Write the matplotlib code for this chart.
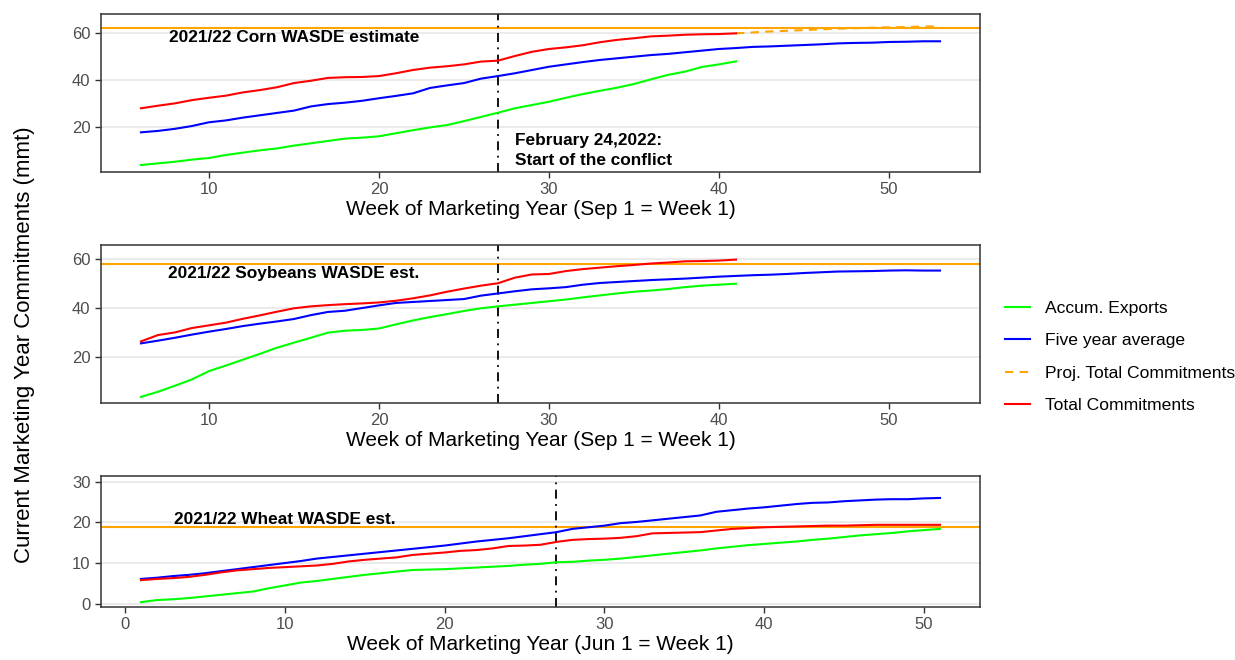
import matplotlib
matplotlib.use("Agg")
import matplotlib.pyplot as plt
from matplotlib.lines import Line2D

plt.rcParams['font.family'] = ['Liberation Sans', 'DejaVu Sans']

# Corn / soybeans: marketing year starts Sep 1 (weeks 6..53)
corn_weeks = list(range(6, 54))
corn_exports = [3.6, 4.3, 5.0, 5.9, 6.6, 7.9, 8.9, 9.9, 10.7, 11.9, 12.9, 13.9, 14.9, 15.3,
                15.9, 17.2, 18.5, 19.7, 20.7, 22.4, 24.2, 26.0, 27.9, 29.3, 30.7, 32.4, 34.0,
                35.4, 36.7, 38.3, 40.3, 42.2, 43.6, 45.6, 46.7, 48.0]
corn_avg = [17.6, 18.2, 19.1, 20.3, 21.9, 22.7, 23.9, 24.9, 25.9, 26.9, 28.7, 29.7, 30.3, 31.1,
            32.2, 33.2, 34.3, 36.6, 37.7, 38.7, 40.6, 41.7, 42.9, 44.3, 45.7, 46.7, 47.7, 48.6,
            49.3, 50.0, 50.7, 51.2, 51.9, 52.6, 53.3, 53.7, 54.2, 54.4, 54.7, 55.0, 55.3, 55.7,
            55.9, 56.0, 56.3, 56.4, 56.6, 56.6]
corn_total = [27.9, 29.0, 30.0, 31.4, 32.4, 33.3, 34.7, 35.7, 36.9, 38.7, 39.7, 40.9, 41.2, 41.3,
              41.7, 42.9, 44.3, 45.3, 45.9, 46.7, 47.9, 48.3, 50.3, 52.1, 53.3, 54.0, 54.9, 56.2,
              57.2, 57.9, 58.7, 59.0, 59.4, 59.6, 59.7, 60.0]
corn_proj_weeks = list(range(41, 54))
corn_proj = [60.0, 60.4, 60.8, 61.1, 61.4, 61.7, 62.0, 62.2, 62.4, 62.6, 62.7, 62.9, 63.0]
corn_wasde = 62.5

soy_weeks = list(range(6, 54))
soy_exports = [3.5, 5.6, 8.1, 10.7, 14.1, 16.4, 18.8, 21.2, 23.7, 25.8, 27.8, 29.9, 30.7, 31.0,
               31.6, 33.3, 34.9, 36.3, 37.5, 38.8, 39.9, 40.7, 41.4, 42.1, 42.8, 43.5, 44.4,
               45.2, 46.0, 46.7, 47.2, 47.8, 48.6, 49.2, 49.6, 50.0]
soy_avg = [25.5, 26.6, 27.8, 29.1, 30.3, 31.4, 32.6, 33.6, 34.5, 35.5, 37.1, 38.4, 38.9, 40.0,
           41.1, 42.1, 42.5, 42.9, 43.3, 43.7, 45.1, 46.0, 46.9, 47.7, 48.1, 48.6, 49.6, 50.3,
           50.7, 51.1, 51.5, 51.8, 52.1, 52.5, 52.9, 53.2, 53.5, 53.7, 54.0, 54.4, 54.7, 55.0,
           55.1, 55.2, 55.4, 55.5, 55.4, 55.4]
soy_total = [26.3, 28.9, 30.0, 31.8, 32.9, 34.0, 35.6, 37.0, 38.5, 39.9, 40.7, 41.2, 41.6, 41.9,
             42.3, 43.0, 44.0, 45.2, 46.7, 48.0, 49.2, 50.2, 52.5, 53.8, 54.0, 55.2, 56.0, 56.6,
             57.2, 57.7, 58.3, 58.7, 59.2, 59.3, 59.5, 59.9]
soy_wasde = 58.2

# Wheat: marketing year starts Jun 1 (weeks 1..51)
wheat_weeks = list(range(1, 52))
wheat_exports = [0.4, 0.9, 1.1, 1.4, 1.8, 2.2, 2.6, 3.0, 3.8, 4.5, 5.2, 5.6, 6.1, 6.6, 7.1, 7.5,
                 7.9, 8.3, 8.4, 8.5, 8.7, 8.9, 9.1, 9.3, 9.6, 9.8, 10.2, 10.3, 10.6, 10.8, 11.1,
                 11.5, 11.9, 12.3, 12.7, 13.1, 13.6, 14.0, 14.4, 14.7, 15.0, 15.3, 15.7, 16.0,
                 16.4, 16.8, 17.1, 17.4, 17.8, 18.1, 18.4]
wheat_avg = [6.1, 6.4, 6.8, 7.1, 7.5, 8.0, 8.5, 9.0, 9.5, 10.0, 10.5, 11.1, 11.5, 11.9, 12.3,
             12.7, 13.1, 13.5, 13.9, 14.3, 14.8, 15.3, 15.7, 16.1, 16.6, 17.1, 17.6, 18.4, 18.8,
             19.2, 19.8, 20.1, 20.5, 20.9, 21.3, 21.7, 22.6, 23.0, 23.4, 23.7, 24.1, 24.5, 24.8,
             24.9, 25.2, 25.4, 25.6, 25.7, 25.7, 25.9, 26.0]
wheat_total = [5.8, 6.1, 6.3, 6.6, 7.1, 7.7, 8.2, 8.5, 8.8, 9.0, 9.2, 9.4, 9.8, 10.4, 10.8, 11.1,
               11.4, 12.0, 12.3, 12.6, 13.0, 13.2, 13.6, 14.2, 14.3, 14.5, 15.2, 15.7, 15.9, 16.0,
               16.2, 16.6, 17.3, 17.4, 17.5, 17.6, 18.0, 18.4, 18.6, 18.8, 18.9, 19.0, 19.1, 19.2,
               19.2, 19.3, 19.4, 19.4, 19.4, 19.4, 19.4]
wheat_wasde = 18.9

conflict_week = 27

GREEN = "#00FF00"
BLUE = "#0000FF"
RED = "#FF0000"
ORANGE = "#FFA500"
LW = 1.5
ANNOT_SIZE = 12.4


def style_axes(ax, xlim, ylim, yticks, xticks, xlabel):
    ax.set_xlim(*xlim)
    ax.set_ylim(*ylim)
    ax.set_yticks(yticks)
    ax.set_xticks(xticks)
    ax.grid(axis='y', color='#EBEBEB', linewidth=1.4)
    ax.grid(axis='x', visible=False)
    ax.set_axisbelow(True)
    for sp in ax.spines.values():
        sp.set_color('#333333')
        sp.set_linewidth(1.1)
    ax.tick_params(colors='#333333', labelcolor='#4D4D4D', labelsize=12, length=4, width=1)
    ax.set_xlabel(xlabel, fontsize=15, labelpad=2)


def vline(ax):
    ax.axvline(conflict_week, color='black', linewidth=1.3, linestyle=(0, (5, 3, 1, 3)))


def main():
    fig = plt.figure(figsize=(12.35, 6.6), dpi=100)
    W, H = 1235, 660
    ax1 = fig.add_axes([101 / W, 1 - 172 / H, 879 / W, 158.5 / H])
    ax2 = fig.add_axes([101 / W, 1 - 403 / H, 879 / W, 158 / H])
    ax3 = fig.add_axes([101 / W, 1 - 607 / H, 879 / W, 131 / H])

    # corn
    ax1.axhline(corn_wasde, color=ORANGE, linewidth=LW)
    vline(ax1)
    ax1.plot(corn_proj_weeks, corn_proj, color=ORANGE, linewidth=LW, linestyle=(0, (4, 3)))
    ax1.plot(corn_weeks[:len(corn_exports)], corn_exports, color=GREEN, linewidth=LW)
    ax1.plot(corn_weeks, corn_avg, color=BLUE, linewidth=LW)
    ax1.plot(corn_weeks[:len(corn_total)], corn_total, color=RED, linewidth=LW)
    ax1.text(15, 58.3, "2021/22 Corn WASDE estimate", fontsize=ANNOT_SIZE, fontweight='bold',
             ha='center', va='center')
    ax1.text(28, 9.8, "February 24,2022:\nStart of the conflict", fontsize=ANNOT_SIZE,
             fontweight='bold', ha='left', va='center', linespacing=1.35)
    style_axes(ax1, (3.65, 55.35), (0.6, 68.5), [20, 40, 60], [10, 20, 30, 40, 50],
               "Week of Marketing Year (Sep 1 = Week 1)")

    # soybeans
    ax2.axhline(soy_wasde, color=ORANGE, linewidth=LW)
    vline(ax2)
    ax2.plot(soy_weeks[:len(soy_exports)], soy_exports, color=GREEN, linewidth=LW)
    ax2.plot(soy_weeks, soy_avg, color=BLUE, linewidth=LW)
    ax2.plot(soy_weeks[:len(soy_total)], soy_total, color=RED, linewidth=LW)
    ax2.text(15, 54.0, "2021/22 Soybeans WASDE est.", fontsize=ANNOT_SIZE, fontweight='bold',
             ha='center', va='center')
    style_axes(ax2, (3.65, 55.35), (1.0, 65.9), [20, 40, 60], [10, 20, 30, 40, 50],
               "Week of Marketing Year (Sep 1 = Week 1)")

    # wheat
    ax3.axhline(wheat_wasde, color=ORANGE, linewidth=LW)
    vline(ax3)
    ax3.plot(wheat_weeks, wheat_exports, color=GREEN, linewidth=LW)
    ax3.plot(wheat_weeks, wheat_avg, color=BLUE, linewidth=LW)
    ax3.plot(wheat_weeks, wheat_total, color=RED, linewidth=LW)
    ax3.text(10, 20.7, "2021/22 Wheat WASDE est.", fontsize=ANNOT_SIZE, fontweight='bold',
             ha='center', va='center')
    style_axes(ax3, (-1.5, 53.5), (-0.8, 31.4), [0, 10, 20, 30], [0, 10, 20, 30, 40, 50],
               "Week of Marketing Year (Jun 1 = Week 1)")

    fig.text(25 / W, 1 - 345 / H, "Current Marketing Year Commitments (mmt)", rotation=90,
             fontsize=16, ha='center', va='center')

    handles = [Line2D([], [], color=GREEN, linewidth=LW),
               Line2D([], [], color=BLUE, linewidth=LW),
               Line2D([], [], color=ORANGE, linewidth=LW, linestyle=(0, (4, 3))),
               Line2D([], [], color=RED, linewidth=LW)]
    labels = ["Accum. Exports", "Five year average", "Proj. Total Commitments",
              "Total Commitments"]
    fig.legend(handles, labels, loc='center left', bbox_to_anchor=(989 / W, 1 - 357 / H),
               frameon=False, fontsize=12.6, handlelength=1.43, handletextpad=0.86,
               labelspacing=0.98)

    fig.savefig("out.png", dpi=100)


if __name__ == "__main__":
    main()
